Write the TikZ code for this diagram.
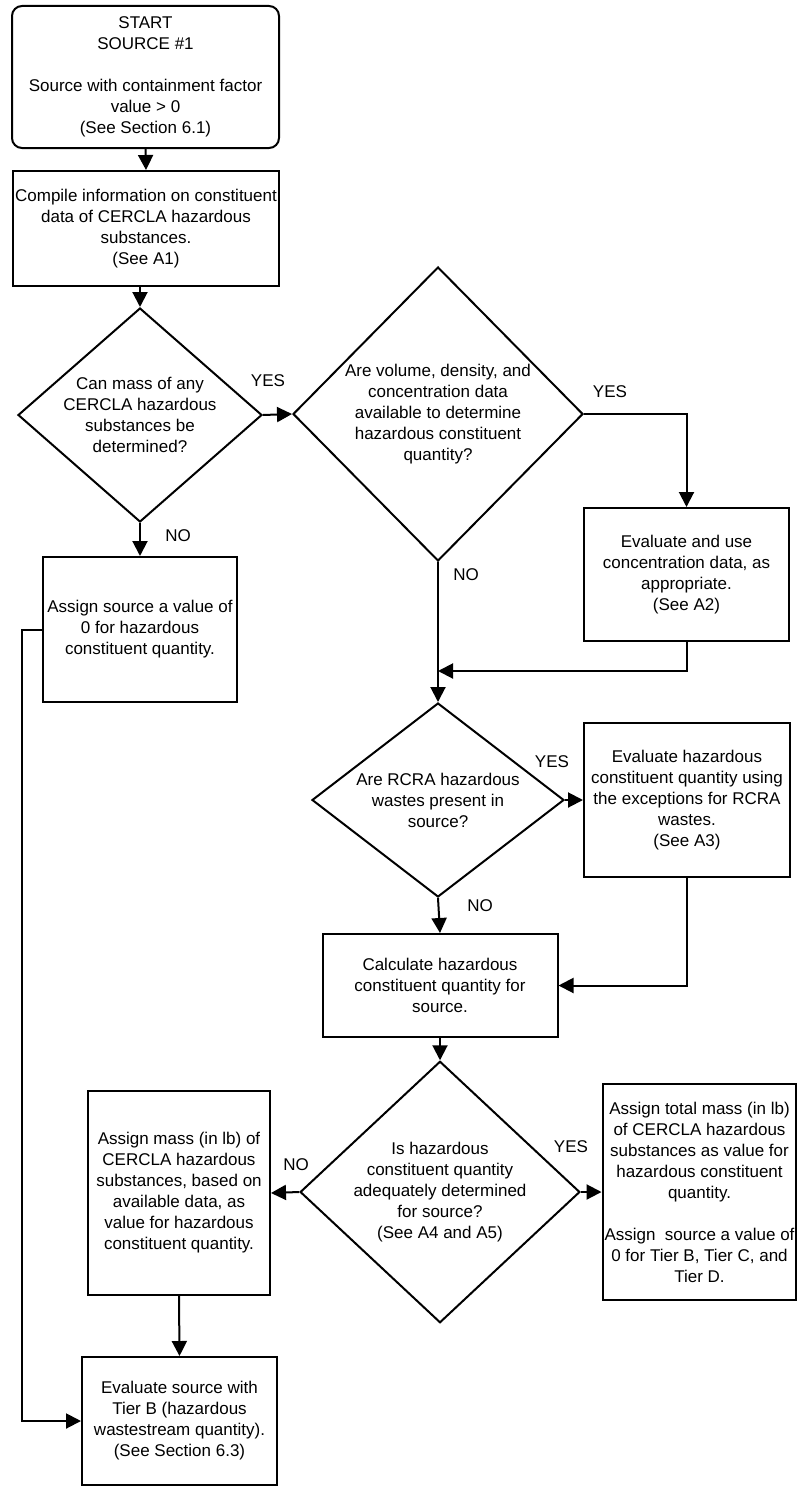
\documentclass[tikz,border=0pt]{standalone}
\usepackage{fontspec}
\setmainfont{Liberation Sans}
\usetikzlibrary{shapes.geometric,arrows.meta}
\tikzstyle{stepbox} = [draw=black,line width=2pt,align=center,inner sep=2pt]
\tikzstyle{startbox} = [stepbox,rounded corners=10pt]
\tikzstyle{question} = [draw=black,line width=2pt,diamond,align=center,inner sep=0pt]
\tikzstyle{answer} = [inner sep=0pt]
\tikzstyle{flow} = [line width=2pt,-{Triangle[length=15pt,width=15pt]}]

\begin{document}
\begin{tikzpicture}[x=1pt,y=-1pt,font=\fontsize{17}{21}\selectfont]
  \useasboundingbox (0,0) rectangle (796,1488);

  \node[startbox,minimum width=267pt,minimum height=142pt] (start) at (145.5,77)
    {START\\SOURCE \#1\\[21pt]Source with containment factor\\value > 0\\(See Section 6.1)};
  \node[stepbox,minimum width=264pt,minimum height=115pt] (compile) at (146,228.5)
    {Compile information on constituent\\data of CERCLA hazardous\\substances.\\(See A1)};
  \node[question,minimum width=244pt,minimum height=214pt,shape aspect=1.14] (q1) at (140,415)
    {Can mass of any\\CERCLA hazardous\\substances be\\determined?};
  \node[stepbox,minimum width=194pt,minimum height=145pt] (assign0) at (140,629.5)
    {Assign source a value of\\0 for hazardous\\constituent quantity.};
  \node[question,minimum width=290pt,minimum height=294pt,shape aspect=1] (q2) at (438,414)
    {Are volume, density, and\\concentration data\\available to determine\\hazardous constituent\\quantity?};
  \node[stepbox,minimum width=205pt,minimum height=133pt] (a2) at (686.5,574.5)
    {Evaluate and use\\concentration data, as\\appropriate.\\(See A2)};
  \coordinate (merge) at (438,671);
  \node[question,minimum width=252pt,minimum height=194pt,shape aspect=1.3] (q3) at (438,800)
    {Are RCRA hazardous\\wastes present in\\source?};
  \node[stepbox,minimum width=206pt,minimum height=154pt] (rcra) at (687,800)
    {Evaluate hazardous\\constituent quantity using\\the exceptions for RCRA\\wastes.\\(See A3)};
  \node[stepbox,minimum width=235pt,minimum height=103pt] (calc) at (440,985.5)
    {Calculate hazardous\\constituent quantity for\\source.};
  \node[question,minimum width=272pt,minimum height=254pt,shape aspect=1.07] (q4) at (440,1192)
    {Is hazardous\\constituent quantity\\adequately determined\\for source?\\(See A4 and A5)};
  \node[stepbox,minimum width=182pt,minimum height=204pt] (mass) at (179,1193)
    {Assign mass (in lb) of\\CERCLA hazardous\\substances, based on\\available data, as\\value for hazardous\\constituent quantity.};
  \node[stepbox,minimum width=191pt,minimum height=216pt] (yesbox) at (699.5,1192)
    {Assign total mass (in lb)\\of CERCLA hazardous\\substances as value for\\hazardous constituent\\quantity.\\[21pt]Assign\ \ source a value of\\0 for Tier B, Tier C, and\\Tier D.};
  \node[stepbox,minimum width=195pt,minimum height=128pt] (tierb) at (179.5,1421)
    {Evaluate source with\\Tier B (hazardous\\wastestream quantity).\\(See Section 6.3)};

  \node[answer] (yes1) at (268,381) {YES};
  \node[answer] (no1) at (178,536) {NO};
  \node[answer] (yes2) at (610,392) {YES};
  \node[answer] (no2) at (466,575) {NO};
  \node[answer] (yes3) at (552,762) {YES};
  \node[answer] (no3) at (480,906) {NO};
  \node[answer] (no4) at (296,1165) {NO};
  \node[answer] (yes4) at (571,1147) {YES};

  \draw[flow] (start.south) -- (compile.north);
  \draw[flow] (compile.south -| q1.north) -- (q1.north);
  \draw[flow] (q1.east) -- (q2.west);
  \draw[flow] (q1.south) -- (assign0.north);
  \draw[flow] (q2.east) -| (a2.north);
  \draw[flow] (q2.south) -- (q3.north);
  \draw[flow] (a2.south) |- (merge);
  \draw[flow] (q3.east) -- (rcra.west);
  \draw[flow] (q3.south) -- (calc.north);
  \draw[flow] (rcra.south) |- (calc.east);
  \draw[flow] (calc.south) -- (q4.north);
  \draw[flow] (q4.west) -- (mass.east);
  \draw[flow] (q4.east) -- (yesbox.west);
  \draw[flow] (mass.south) -- (tierb.north);
  \draw[flow] (assign0.west) -- ++(-20,0) |- (tierb.west);
\end{tikzpicture}
\end{document}
